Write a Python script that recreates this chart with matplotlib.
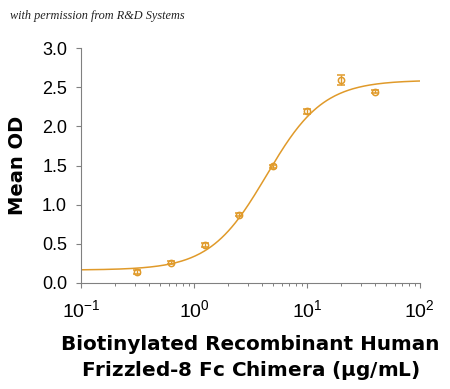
import numpy as np
import matplotlib
matplotlib.use("Agg")
import matplotlib.pyplot as plt
from matplotlib.ticker import LogLocator, FixedLocator

# data
conc = [0.3125, 0.625, 1.25, 2.5, 5, 10, 20, 40]          # ug/mL
od = [0.14, 0.26, 0.48, 0.87, 1.49, 2.19, 2.59, 2.44]
od_err = [0.02, 0.015, 0.025, 0.02, 0.02, 0.035, 0.065, 0.02]

# 4PL fit parameters (estimated from the drawn curve)
bottom, top, ec50, hill = 0.165, 2.59, 4.4, 1.73

col = "#E09A2A"
plt.rcParams['font.family'] = ['Liberation Sans', 'DejaVu Sans']
plt.rcParams['mathtext.fontset'] = 'custom'
plt.rcParams['mathtext.rm'] = 'Liberation Sans'

fig = plt.figure(figsize=(4.5, 3.89), dpi=100)
ax = fig.add_axes([0.18, 0.2725, 0.753, 0.604])

xs = np.logspace(-1, 2, 300)
ax.plot(xs, bottom + (top - bottom) / (1 + (ec50 / xs) ** hill), color=col, lw=1.1)
ax.errorbar(conc, od, yerr=od_err, fmt="o", mfc="none", mec=col, ecolor=col,
            ms=4.5, mew=1.1, elinewidth=1.0, capsize=3)

ax.set_xscale("log")
ax.set_xlim(0.1, 100)
ax.set_ylim(0, 3.0)
ax.set_yticks(np.arange(0, 3.01, 0.5))
ax.set_yticklabels(["%.1f" % v for v in np.arange(0, 3.01, 0.5)])
ax.xaxis.set_major_locator(FixedLocator([0.1, 1, 10, 100]))
ax.xaxis.set_minor_locator(LogLocator(base=10, subs=np.arange(2, 10)))
ax.set_xticklabels(["$\\mathregular{10^{-1}}$", "$\\mathregular{10^{0}}$",
                    "$\\mathregular{10^{1}}$", "$\\mathregular{10^{2}}$"])

for s in ["top", "right"]:
    ax.spines[s].set_visible(False)
for s in ["left", "bottom"]:
    ax.spines[s].set_color("#808080")
    ax.spines[s].set_linewidth(0.8)
ax.tick_params(which="major", length=3.5, width=0.8, color="#808080")
ax.tick_params(which="minor", length=2, width=0.7, color="#808080")
ax.tick_params(axis="y", labelsize=13, pad=6.5)
ax.tick_params(axis="x", which="major", labelsize=14, pad=8)

ax.set_ylabel("Mean OD", fontsize=14, fontweight="bold", family="DejaVu Sans", labelpad=11)
ax.set_xlabel("Biotinylated Recombinant Human\nFrizzled-8 Fc Chimera ($\\mathregular{\\mu}$g/mL)",
              fontsize=14.4, fontweight="bold", family="DejaVu Sans", labelpad=10,
              linespacing=1.33)

fig.text(0.022, 0.958, "with permission from R&D Systems", fontsize=8.8,
         style="italic", family="Liberation Serif", color="#222222", va="center")

fig.savefig("out.png", dpi=100)
